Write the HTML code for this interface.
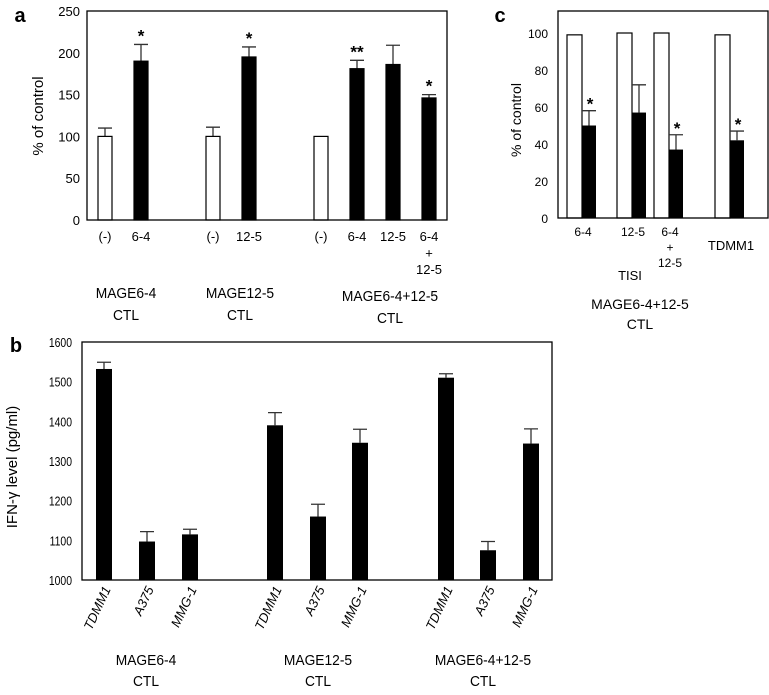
<!DOCTYPE html>
<html><head><meta charset="utf-8"><style>
body{margin:0;background:#fff;}
svg{font-family:"Liberation Sans",sans-serif;}
</style></head><body>
<svg id="s" width="769" height="690" viewBox="0 0 769 690" xmlns="http://www.w3.org/2000/svg"></svg>
<script>
// Panel a data
const aCats=["(-)","6-4","(-)","12-5","(-)","6-4","12-5","6-4+12-5"];
const aVals=[100,190,100,195,100,181,186,146];
const aErr=[10,20,11,12,0,10,23,4];
const aFill=["w","b","w","b","w","b","b","b"];
const aStars=["","*","","*","","**","","*"];
const aTicks=[0,50,100,150,200,250];
// Panel b data
const bCats=["TDMM1","A375","MMG-1","TDMM1","A375","MMG-1","TDMM1","A375","MMG-1"];
const bVals=[1532,1097,1115,1390,1160,1346,1510,1075,1344];
const bErr=[17,25,13,32,31,34,10,22,37];
const bTicks=[1000,1100,1200,1300,1400,1500,1600];
// Panel c data
const cCats=["6-4","12-5","6-4+12-5","TDMM1"];
const cCtrl=[99,100,100,99];
const cVals=[50,57,37,42];
const cErr=[8,15,8,5];
const cStars=["*","","*","*"];
const cTicks=[0,20,40,60,80,100];

const S=document.getElementById('s');const NS="http://www.w3.org/2000/svg";
function el(t,a,txt){const e=document.createElementNS(NS,t);for(const k in a)e.setAttribute(k,a[k]);if(txt!==undefined)e.textContent=txt;S.appendChild(e);return e;}
function txt(x,y,s,size,anchor,name,extra){const e=el('text',Object.assign({x:x,y:y,'font-size':size,'text-anchor':anchor||'middle',fill:'#000'},extra||{}),s);

return e;}
function errbar(cx,yt,ye,name){const l=el('path',{d:`M${cx} ${yt}V${ye}M${cx-7} ${ye}H${cx+7}`,stroke:'#333','stroke-width':1.3,fill:'none'});

}

// ---- Panel a
const aY=v=>220-v*(209/250);
const aX=[105,141,213,249,321,357,393,429];
txt(20,22,"a",20,'middle','panel-a-label',{'font-weight':'bold'});
aTicks.forEach(t=>{txt(80,aY(t)+5,String(t),13,'end','a-y-tick');});
txt(0,0,"% of control",15,'middle','a-y-axis-title',{transform:'translate(43,116) rotate(-90)'});
aCats.forEach((c,i)=>{const cx=aX[i],y=aY(aVals[i]);
 if(aErr[i]>0)errbar(cx,y,aY(aVals[i]+aErr[i]),'a-error-bar');
 const r=el('rect',{x:cx-7,y:y,width:14,height:220-y,fill:aFill[i]=='b'?'#000':'#fff',stroke:'#000','stroke-width':1.2});
 
 
 if(aStars[i])txt(cx,aY(aVals[i]+aErr[i])-3,aStars[i],17,'middle','a-significance-star',{'font-weight':'bold'});
 const parts=c==="6-4+12-5"?["6-4","+","12-5"]:[c];
 parts.forEach((p,j)=>txt(cx,241+j*16.5,p,13,'middle','a-x-tick'));
});
const ab=el('rect',{x:87,y:11,width:360,height:209,fill:'none',stroke:'#000','stroke-width':1.3});

[["MAGE6-4",126,0],["MAGE12-5",240,0],["MAGE6-4+12-5",390,3]].forEach(g=>{txt(g[1],298+g[2],g[0],15,'middle','a-group-label',{transform:`translate(${g[1]*0.08},0) scale(0.92,1)`});txt(g[1],320+g[2],"CTL",15,'middle','a-group-label',{transform:`translate(${g[1]*0.08},0) scale(0.92,1)`});});

// ---- Panel c
const cY=v=>218-v*(185/100);
const cX=[567,617,654,715];
txt(500,22,"c",20,'middle','panel-c-label',{'font-weight':'bold'});
cTicks.forEach(t=>txt(548,cY(t)+5,String(t),12,'end','c-y-tick'));
txt(0,0,"% of control",14,'middle','c-y-axis-title',{transform:'translate(521,120) rotate(-90)'});
cCats.forEach((c,i)=>{const x=cX[i];
 let y=cY(cCtrl[i]);
 const w=el('rect',{x:x,y:y,width:15,height:218-y,fill:'#fff',stroke:'#000','stroke-width':1.2});
 
 y=cY(cVals[i]);
 errbar(x+22,y,cY(cVals[i]+cErr[i]),'c-error-bar');
 const b=el('rect',{x:x+15,y:y,width:14,height:218-y,fill:'#000'});
 
 if(cStars[i])txt(x+23,cY(cVals[i]+cErr[i])-1,cStars[i],17,'middle','c-significance-star',{'font-weight':'bold'});
 if(c==="TDMM1")txt(x+16,250,c,13,'middle','c-x-tick');
 else (c==="6-4+12-5"?["6-4","+","12-5"]:[c]).forEach((p,j)=>txt(x+16,236+j*15.5,p,12,'middle','c-x-tick'));
});
const cb=el('rect',{x:558,y:11,width:210,height:207,fill:'none',stroke:'#000','stroke-width':1.3});

txt(630,280,"TISI",13,'middle','c-subgroup-label');
txt(640,309,"MAGE6-4+12-5",14,'middle','c-group-label');
txt(640,329,"CTL",14,'middle','c-group-label');

// ---- Panel b
const bY=v=>580-(v-1000)*(238/600);
const bX=[104,147,190,275,318,360,446,488,531];
txt(16,352,"b",20,'middle','panel-b-label',{'font-weight':'bold'});
bTicks.forEach(t=>txt(72,bY(t)+5,String(t),13,'end','b-y-tick',{transform:`translate(${72*0.2},0) scale(0.8,1)`}));
txt(0,0,"IFN-γ level (pg/ml)",15,'middle','b-y-axis-title',{transform:'translate(17,467) rotate(-90)'});
bCats.forEach((c,i)=>{const cx=bX[i],y=bY(bVals[i]);
 errbar(cx,y,bY(bVals[i]+bErr[i]),'b-error-bar');
 const r=el('rect',{x:cx-8,y:y,width:16,height:580-y,fill:'#000'});
 
 txt(0,0,c,13,'end','b-x-tick',{transform:`translate(${cx+7},589) rotate(-65)`,'font-style':'italic'});
});
const bb=el('rect',{x:82,y:342,width:470,height:238,fill:'none',stroke:'#000','stroke-width':1.3});

[["MAGE6-4",146],["MAGE12-5",318],["MAGE6-4+12-5",483]].forEach(g=>{txt(g[1],665,g[0],15,'middle','b-group-label',{transform:`translate(${g[1]*0.08},0) scale(0.92,1)`});txt(g[1],686,"CTL",15,'middle','b-group-label',{transform:`translate(${g[1]*0.08},0) scale(0.92,1)`});});
</script>
</body></html>
